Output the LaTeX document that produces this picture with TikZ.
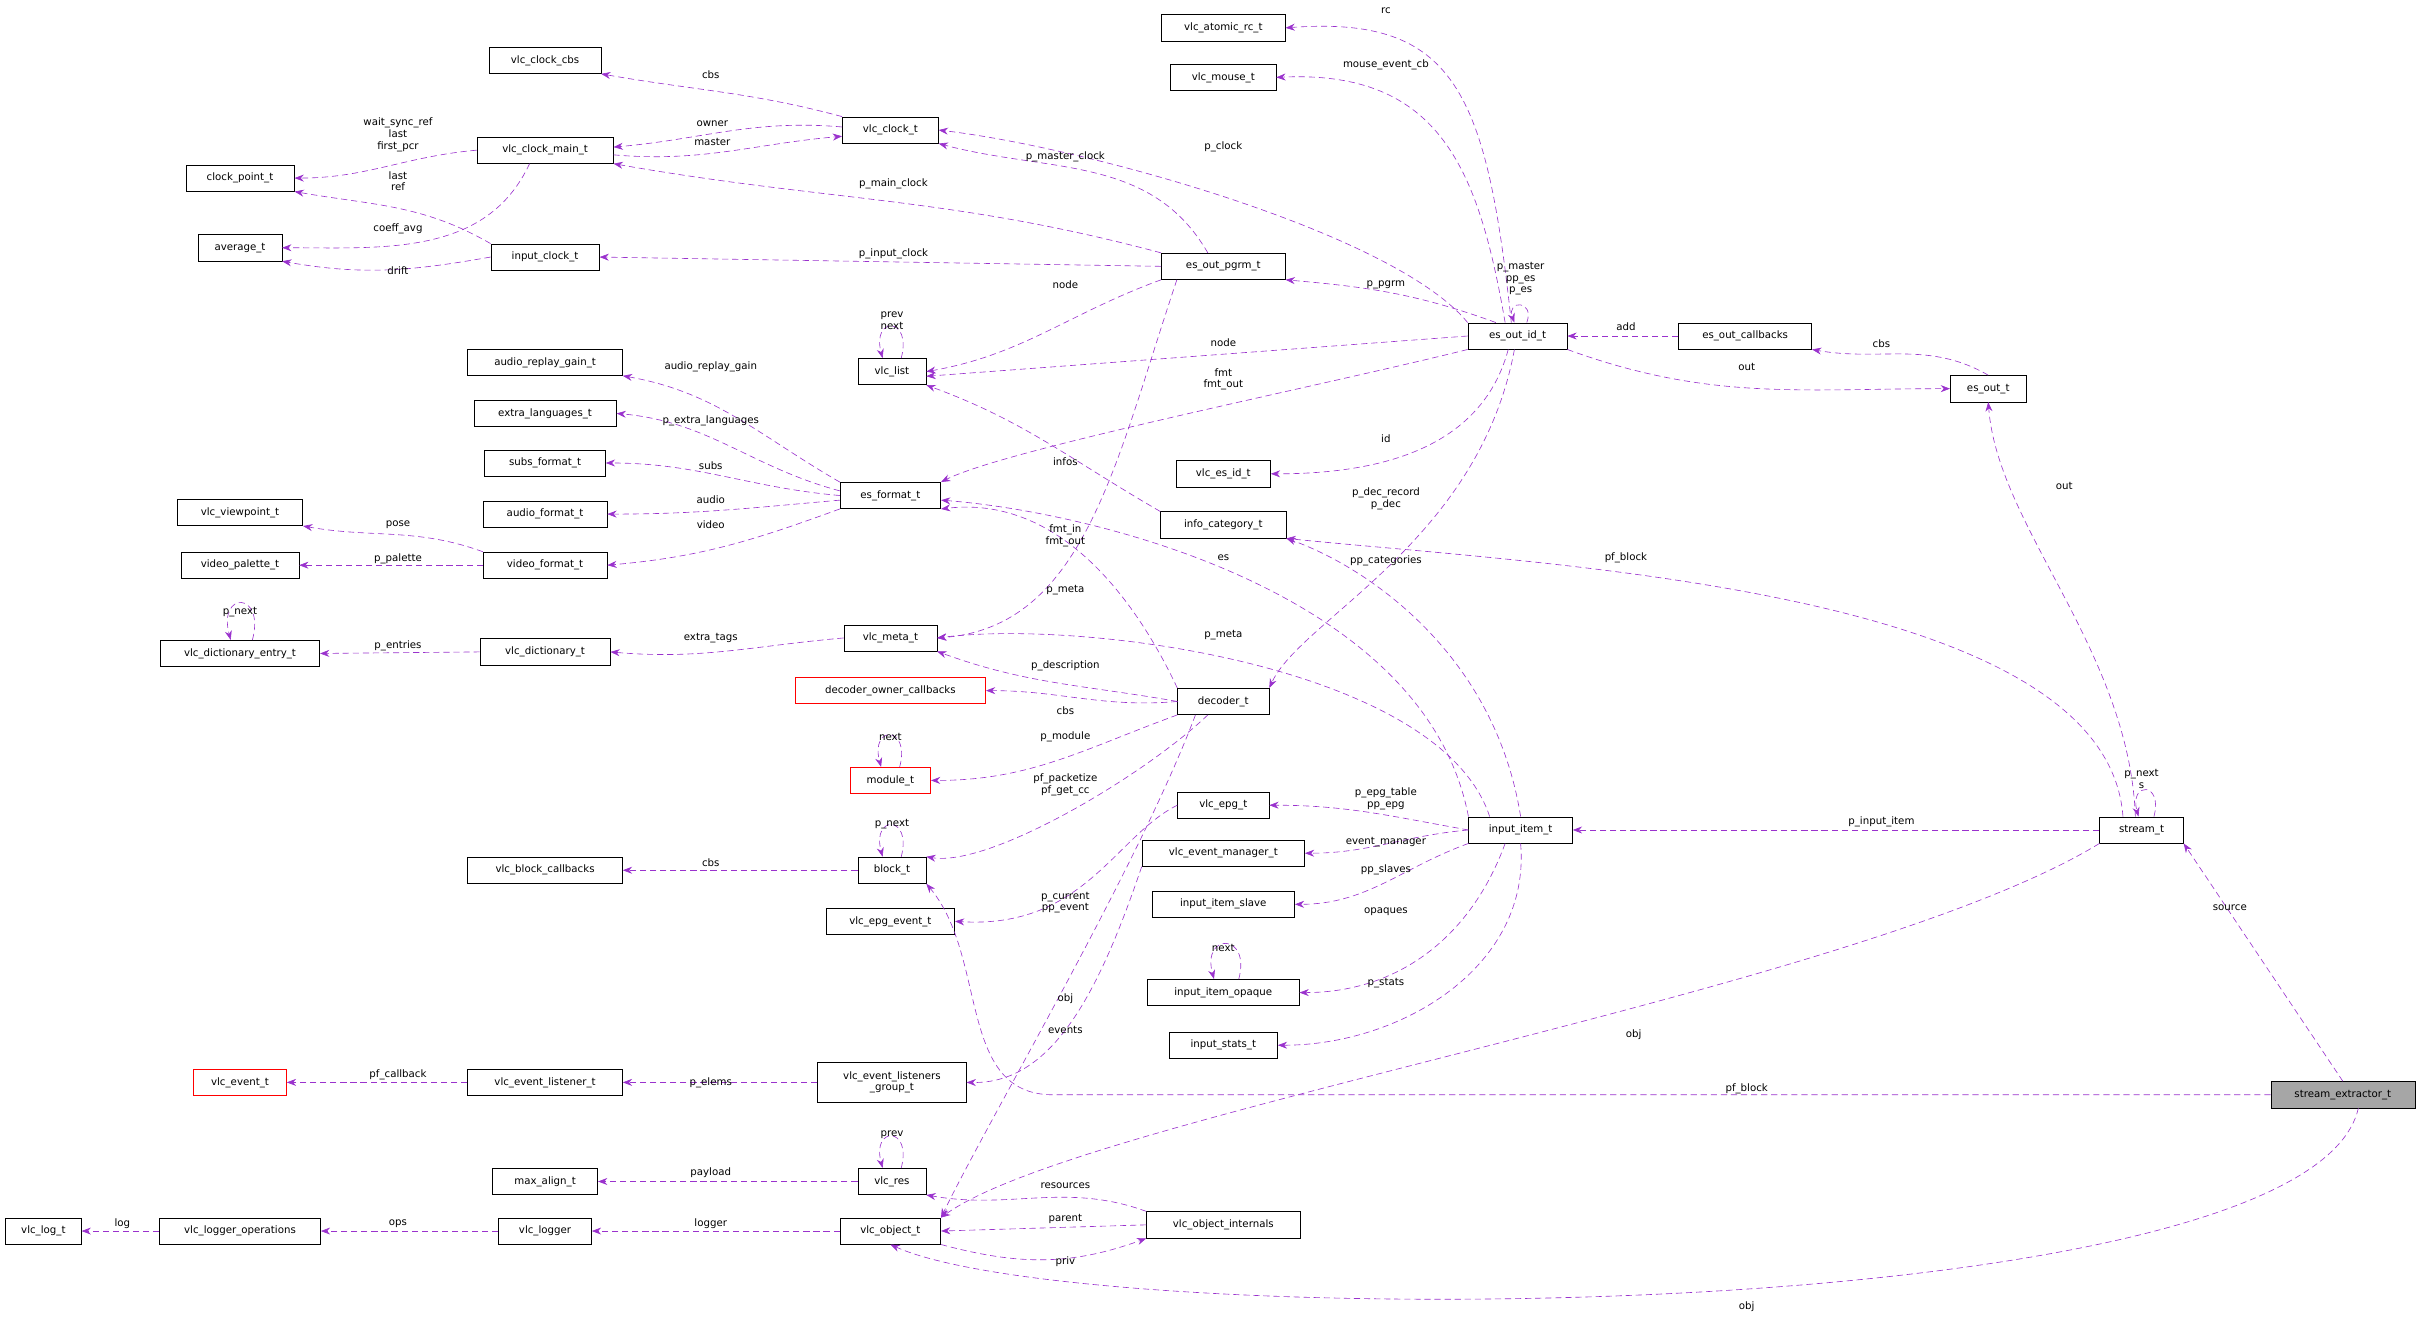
\documentclass[tikz,border=0pt]{standalone}
\usepackage{fontspec}
\setmainfont{DejaVu Sans}
\usetikzlibrary{arrows.meta}
\definecolor{dorch}{HTML}{9A32CD}
\tikzset{
 ent/.style={draw,fill=white,font=\fontsize{6.6}{7.5}\selectfont,inner sep=1.5pt,minimum height=17pt,align=center},
 redent/.style={ent,draw=red},
 edge/.style={dashed,dash pattern=on 4pt off 2.5pt,color=dorch,-{Stealth[length=6pt,width=4.5pt]}},
 lab/.style={font=\fontsize{6.6}{7.5}\selectfont,align=center,inner sep=0pt}
}
\begin{document}
\begin{tikzpicture}[x=1pt,y=-1pt]
\useasboundingbox (0,0) rectangle (1568,853);
% nodes
\node[ent,minimum width=80] (rc) at (790,18) {vlc\_atomic\_rc\_t};
\node[ent,minimum width=68] (mouse) at (790,50) {vlc\_mouse\_t};
\node[ent,minimum width=72] (cbs) at (352,39) {vlc\_clock\_cbs};
\node[ent,minimum width=62] (clock) at (575,84) {vlc\_clock\_t};
\node[ent,minimum width=88] (cmain) at (352,97) {vlc\_clock\_main\_t};
\node[ent,minimum width=70] (cpoint) at (155,115) {clock\_point\_t};
\node[ent,minimum width=54] (avg) at (155,160) {average\_t};
\node[ent,minimum width=70] (iclock) at (352,166) {input\_clock\_t};
\node[ent,minimum width=80] (pgrm) at (790,172) {es\_out\_pgrm\_t};
\node[ent,minimum width=44] (vlist) at (576,240) {vlc\_list};
\node[ent,minimum width=64] (eoid) at (980,217) {es\_out\_id\_t};
\node[ent,minimum width=86] (eocb) at (1127,217) {es\_out\_callbacks};
\node[ent,minimum width=49] (esout) at (1284,251) {es\_out\_t};
\node[ent,minimum width=100] (arg) at (352,234) {audio\_replay\_gain\_t};
\node[ent,minimum width=92] (xlang) at (352,267) {extra\_languages\_t};
\node[ent,minimum width=78] (subs) at (352,299) {subs\_format\_t};
\node[ent,minimum width=80] (afmt) at (352,332) {audio\_format\_t};
\node[ent,minimum width=65] (esfmt) at (575,320) {es\_format\_t};
\node[ent,minimum width=61] (esid) at (790,306) {vlc\_es\_id\_t};
\node[ent,minimum width=81] (info) at (790,339) {info\_category\_t};
\node[ent,minimum width=81] (vp) at (155,331) {vlc\_viewpoint\_t};
\node[ent,minimum width=76] (vpal) at (155,365) {video\_palette\_t};
\node[ent,minimum width=80] (vfmt) at (352,365) {video\_format\_t};
\node[ent,minimum width=103] (dent) at (155,422) {vlc\_dictionary\_entry\_t};
\node[ent,minimum width=84] (dict) at (352,421) {vlc\_dictionary\_t};
\node[ent,minimum width=60] (meta) at (575,412) {vlc\_meta\_t};
\node[redent,minimum width=123] (doc) at (575,446) {decoder\_owner\_callbacks};
\node[ent,minimum width=59] (dec) at (790,453) {decoder\_t};
\node[redent,minimum width=52] (mod) at (575,504) {module\_t};
\node[ent,minimum width=59] (epg) at (790,520) {vlc\_epg\_t};
\node[ent,minimum width=67] (item) at (982,536) {input\_item\_t};
\node[ent,minimum width=54] (stream) at (1383,536) {stream\_t};
\node[ent,minimum width=100] (bcb) at (352,562) {vlc\_block\_callbacks};
\node[ent,minimum width=44] (block) at (576,562) {block\_t};
\node[ent,minimum width=105] (evm) at (790,551) {vlc\_event\_manager\_t};
\node[ent,minimum width=92] (slave) at (790,584) {input\_item\_slave};
\node[ent,minimum width=83] (epgev) at (575,595) {vlc\_epg\_event\_t};
\node[ent,minimum width=98] (opq) at (790,641) {input\_item\_opaque};
\node[ent,minimum width=70] (stats) at (790,675) {input\_stats\_t};
\node[redent,minimum width=60] (evt) at (155,699) {vlc\_event\_t};
\node[ent,minimum width=100] (evl) at (352,699) {vlc\_event\_listener\_t};
\node[ent,minimum width=96,minimum height=26] (lg) at (576,699) {vlc\_event\_listeners\\\_group\_t};
\node[ent,minimum width=93,fill=black!35] (sx) at (1513,707) {stream\_extractor\_t};
\node[ent,minimum width=68] (maxa) at (352,763) {max\_align\_t};
\node[ent,minimum width=44] (res) at (576,763) {vlc\_res};
\node[ent,minimum width=49] (logt) at (28,795) {vlc\_log\_t};
\node[ent,minimum width=104] (lops) at (155,795) {vlc\_logger\_operations};
\node[ent,minimum width=60] (logger) at (352,795) {vlc\_logger};
\node[ent,minimum width=65] (obj) at (575,795) {vlc\_object\_t};
\node[ent,minimum width=99] (oint) at (790,791) {vlc\_object\_internals};
% edges
\draw[edge] ([xshift=-4]eoid.north) .. controls (960,60) and (940,10) .. (rc.east);
\draw[edge] ([xshift=-8]eoid.north) .. controls (955,110) and (930,45) .. (mouse.east);
\draw[edge] (clock.north west) to[out=165,in=-10] (cbs.south east);
\draw[edge] ([yshift=2]clock.west) to[out=175,in=5] ([yshift=2]cmain.east);
\draw[edge] ([yshift=-3]cmain.east) to[out=-5,in=185] ([yshift=-4]clock.west);
\draw[edge] (cmain.west) to[out=185,in=0] (cpoint.east);
\draw[edge] ([xshift=-10]cmain.south) to[out=-115,in=0] (avg.east);
\draw[edge] (iclock.north west) to[out=150,in=-10] (cpoint.south east);
\draw[edge] (iclock.west) to[out=190,in=-10] (avg.south east);
\draw[edge] (eoid.north west) .. controls (900,150) and (700,95) .. (clock.east);
\draw[edge] ([xshift=-10]pgrm.north) to[out=120,in=-15] (clock.south east);
\draw[edge] (pgrm.north west) to[out=165,in=-10] (cmain.south east);
\draw[edge] (pgrm.west) -- (iclock.east);
\draw[edge] (pgrm.south west) to[out=200,in=10] (vlist.east);
\draw[edge] ([xshift=6]vlist.north) to[out=75,in=105,looseness=6] ([xshift=-6]vlist.north);
\draw[edge] ([xshift=-14]eoid.north) to[out=160,in=-5] (pgrm.south east);
\draw[edge] ([xshift=6]eoid.north) to[out=70,in=110,looseness=5] ([xshift=-2]eoid.north);
\draw[edge] (eoid.west) -- ([yshift=-3]vlist.east);
\draw[edge] (eoid.south west) .. controls (850,250) and (650,290) .. (esfmt.north east);
\draw[edge] (eocb.west) -- (eoid.east);
\draw[edge] (esout.north) to[out=150,in=-10] (eocb.south east);
\draw[edge] (eoid.south east) to[out=-20,in=180] (esout.west);
\draw[edge] ([xshift=-6]eoid.south) to[out=-105,in=0] (esid.east);
\draw[edge] ([xshift=-2]eoid.south) .. controls (955,350) and (840,400) .. (dec.north east);
\draw[edge] (esfmt.north west) to[out=150,in=-10] (arg.south east);
\draw[edge] ([yshift=3]esfmt.west) to[out=165,in=-5] (xlang.east);
\draw[edge] (esfmt.west) to[out=175,in=0] (subs.east);
\draw[edge] ([yshift=-3]esfmt.west) to[out=185,in=0] (afmt.east);
\draw[edge] (esfmt.south west) to[out=200,in=5] (vfmt.east);
\draw[edge] (vfmt.north west) to[out=160,in=-10] (vp.south east);
\draw[edge] (vfmt.west) -- (vpal.east);
\draw[edge] ([xshift=8]dent.north) to[out=75,in=105,looseness=6] ([xshift=-6]dent.north);
\draw[edge] (dict.west) -- (dent.east);
\draw[edge] (meta.west) to[out=185,in=-5] (dict.east);
\draw[edge] ([xshift=-30]pgrm.south) .. controls (720,300) and (700,405) .. (meta.east);
\draw[edge] (info.north west) to[out=150,in=-20] (vlist.south east);
\draw[edge] (dec.north west) .. controls (730,380) and (680,320) .. (esfmt.south east);
\draw[edge] (item.north west) .. controls (920,380) and (700,330) .. ([yshift=-3]esfmt.east);
\draw[edge] (item.north) .. controls (965,420) and (880,365) .. (info.south east);
\draw[edge] ([xshift=-20]item.north) .. controls (930,430) and (700,400) .. (meta.east);
\draw[edge] (dec.west) to[out=170,in=-20] (meta.south east);
\draw[edge] (dec.west) to[out=185,in=0] (doc.east);
\draw[edge] (dec.south west) to[out=200,in=0] (mod.east);
\draw[edge] ([xshift=6]mod.north) to[out=75,in=105,looseness=6] ([xshift=-6]mod.north);
\draw[edge] ([xshift=-10]dec.south) .. controls (740,500) and (640,560) .. (block.north east);
\draw[edge] ([xshift=-18]dec.south) .. controls (735,560) and (640,720) .. (obj.north east);
\draw[edge] (item.west) to[out=170,in=0] (epg.east);
\draw[edge] (item.west) to[out=185,in=0] (evm.east);
\draw[edge] (item.south west) to[out=200,in=0] (slave.east);
\draw[edge] ([xshift=-10]item.south) to[out=-110,in=0] (opq.east);
\draw[edge] ([xshift=10]opq.north) to[out=75,in=105,looseness=5] ([xshift=-6]opq.north);
\draw[edge] (item.south) to[out=-85,in=0] (stats.east);
\draw[edge] (stream.west) -- (item.east);
\draw[edge] ([xshift=8]stream.north) to[out=75,in=105,looseness=6] ([xshift=-2]stream.north);
\draw[edge] ([xshift=-4]stream.north) .. controls (1375,420) and (1290,340) .. (esout.south);
\draw[edge] ([xshift=-12]stream.north) .. controls (1360,380) and (1000,365) .. (info.south east);
\draw[edge] (sx.north) -- (stream.south east);
\draw[edge] (stream.south west) .. controls (1200,640) and (700,720) .. (obj.north east);
\coordinate (c58) at (680,707);
\draw[edge] (sx.west) -- (c58) to[out=180,in=-50] (block.south east);
\draw[edge] ([xshift=10]sx.south) .. controls (1490,860) and (700,860) .. (obj.south);
\draw[edge] ([xshift=6]block.north) to[out=75,in=105,looseness=6] ([xshift=-6]block.north);
\draw[edge] (block.west) -- (bcb.east);
\draw[edge] (epg.west) .. controls (720,540) and (700,600) .. (epgev.east);
\draw[edge] (evm.south west) .. controls (710,640) and (680,700) .. (lg.east);
\draw[edge] (lg.west) -- (evl.east);
\draw[edge] (evl.west) -- (evt.east);
\draw[edge] ([xshift=6]res.north) to[out=75,in=105,looseness=6] ([xshift=-6]res.north);
\draw[edge] (res.west) -- (maxa.east);
\draw[edge] (oint.north west) to[out=160,in=-10] (res.south east);
\draw[edge] (oint.west) -- (obj.east);
\draw[edge] (obj.south east) to[out=-15,in=-160] (oint.south west);
\draw[edge] (obj.west) -- (logger.east);
\draw[edge] (logger.west) -- (lops.east);
\draw[edge] (lops.west) -- (logt.east);
% labels
\node[lab] (l1) at (895,7) {rc};
\node[lab] (l2) at (895,42) {mouse\_event\_cb};
\node[lab] (l3) at (459,48) {cbs};
\node[lab] (l4) at (460,80) {owner};
\node[lab] (l5) at (460,92) {master};
\node[lab] (l6) at (257,87) {wait\_sync\_ref\\last\\first\_pcr};
\node[lab] (l7) at (257,148) {coeff\_avg};
\node[lab] (l8) at (257,117) {last\\ref};
\node[lab] (l9) at (257,175) {drift};
\node[lab] (l10) at (790,95) {p\_clock};
\node[lab] (l11) at (688,101) {p\_master\_clock};
\node[lab] (l12) at (577,119) {p\_main\_clock};
\node[lab] (l13) at (577,164) {p\_input\_clock};
\node[lab] (l14) at (688,184) {node};
\node[lab] (l15) at (576,207) {prev\\next};
\node[lab] (l16) at (895,184) {p\_pgrm};
\node[lab] (l17) at (982,180) {p\_master\\pp\_es\\p\_es};
\node[lab] (l18) at (790,221) {node};
\node[lab] (l19) at (790,245) {fmt\\fmt\_out};
\node[lab] (l20) at (1050,211) {add};
\node[lab] (l21) at (1215,222) {cbs};
\node[lab] (l22) at (1128,237) {out};
\node[lab] (l23) at (895,283) {id};
\node[lab] (l24) at (895,322) {p\_dec\_record\\p\_dec};
\node[lab] (l25) at (459,237) {audio\_replay\_gain};
\node[lab] (l26) at (459,272) {p\_extra\_languages};
\node[lab] (l27) at (459,301) {subs};
\node[lab] (l28) at (459,323) {audio};
\node[lab] (l29) at (459,339) {video};
\node[lab] (l30) at (257,339) {pose};
\node[lab] (l31) at (257,361) {p\_palette};
\node[lab] (l32) at (155,395) {p\_next};
\node[lab] (l33) at (257,417) {p\_entries};
\node[lab] (l34) at (459,412) {extra\_tags};
\node[lab] (l35) at (688,381) {p\_meta};
\node[lab] (l36) at (688,298) {infos};
\node[lab] (l37) at (688,346) {fmt\_in\\fmt\_out};
\node[lab] (l38) at (790,360) {es};
\node[lab] (l39) at (895,362) {pp\_categories};
\node[lab] (l40) at (790,410) {p\_meta};
\node[lab] (l41) at (688,430) {p\_description};
\node[lab] (l42) at (688,459) {cbs};
\node[lab] (l43) at (688,476) {p\_module};
\node[lab] (l44) at (575,476) {next};
\node[lab] (l45) at (688,507) {pf\_packetize\\pf\_get\_cc};
\node[lab] (l46) at (895,516) {p\_epg\_table\\pp\_epg};
\node[lab] (l47) at (895,544) {event\_manager};
\node[lab] (l48) at (895,562) {pp\_slaves};
\node[lab] (l49) at (895,589) {opaques};
\node[lab] (l50) at (790,612) {next};
\node[lab] (l51) at (895,635) {p\_stats};
\node[lab] (l52) at (1215,531) {p\_input\_item};
\node[lab] (l53) at (1383,503) {p\_next\\s};
\node[lab] (l54) at (1333,314) {out};
\node[lab] (l55) at (1050,360) {pf\_block};
\node[lab] (l56) at (1440,586) {source};
\node[lab] (l57) at (1055,668) {obj};
\node[lab] (l58) at (1128,703) {pf\_block};
\node[lab] (l59) at (1128,844) {obj};
\node[lab] (l60) at (576,532) {p\_next};
\node[lab] (l61) at (459,557) {cbs};
\node[lab] (l62) at (688,583) {p\_current\\pp\_event};
\node[lab] (l63) at (688,665) {events};
\node[lab] (l64) at (688,645) {obj};
\node[lab] (l65) at (459,699) {p\_elems};
\node[lab] (l66) at (257,694) {pf\_callback};
\node[lab] (l67) at (576,733) {prev};
\node[lab] (l68) at (459,757) {payload};
\node[lab] (l69) at (688,766) {resources};
\node[lab] (l70) at (688,787) {parent};
\node[lab] (l71) at (688,815) {priv};
\node[lab] (l72) at (459,790) {logger};
\node[lab] (l73) at (257,790) {ops};
\node[lab] (l74) at (79,790) {log};
\end{tikzpicture}
\end{document}
